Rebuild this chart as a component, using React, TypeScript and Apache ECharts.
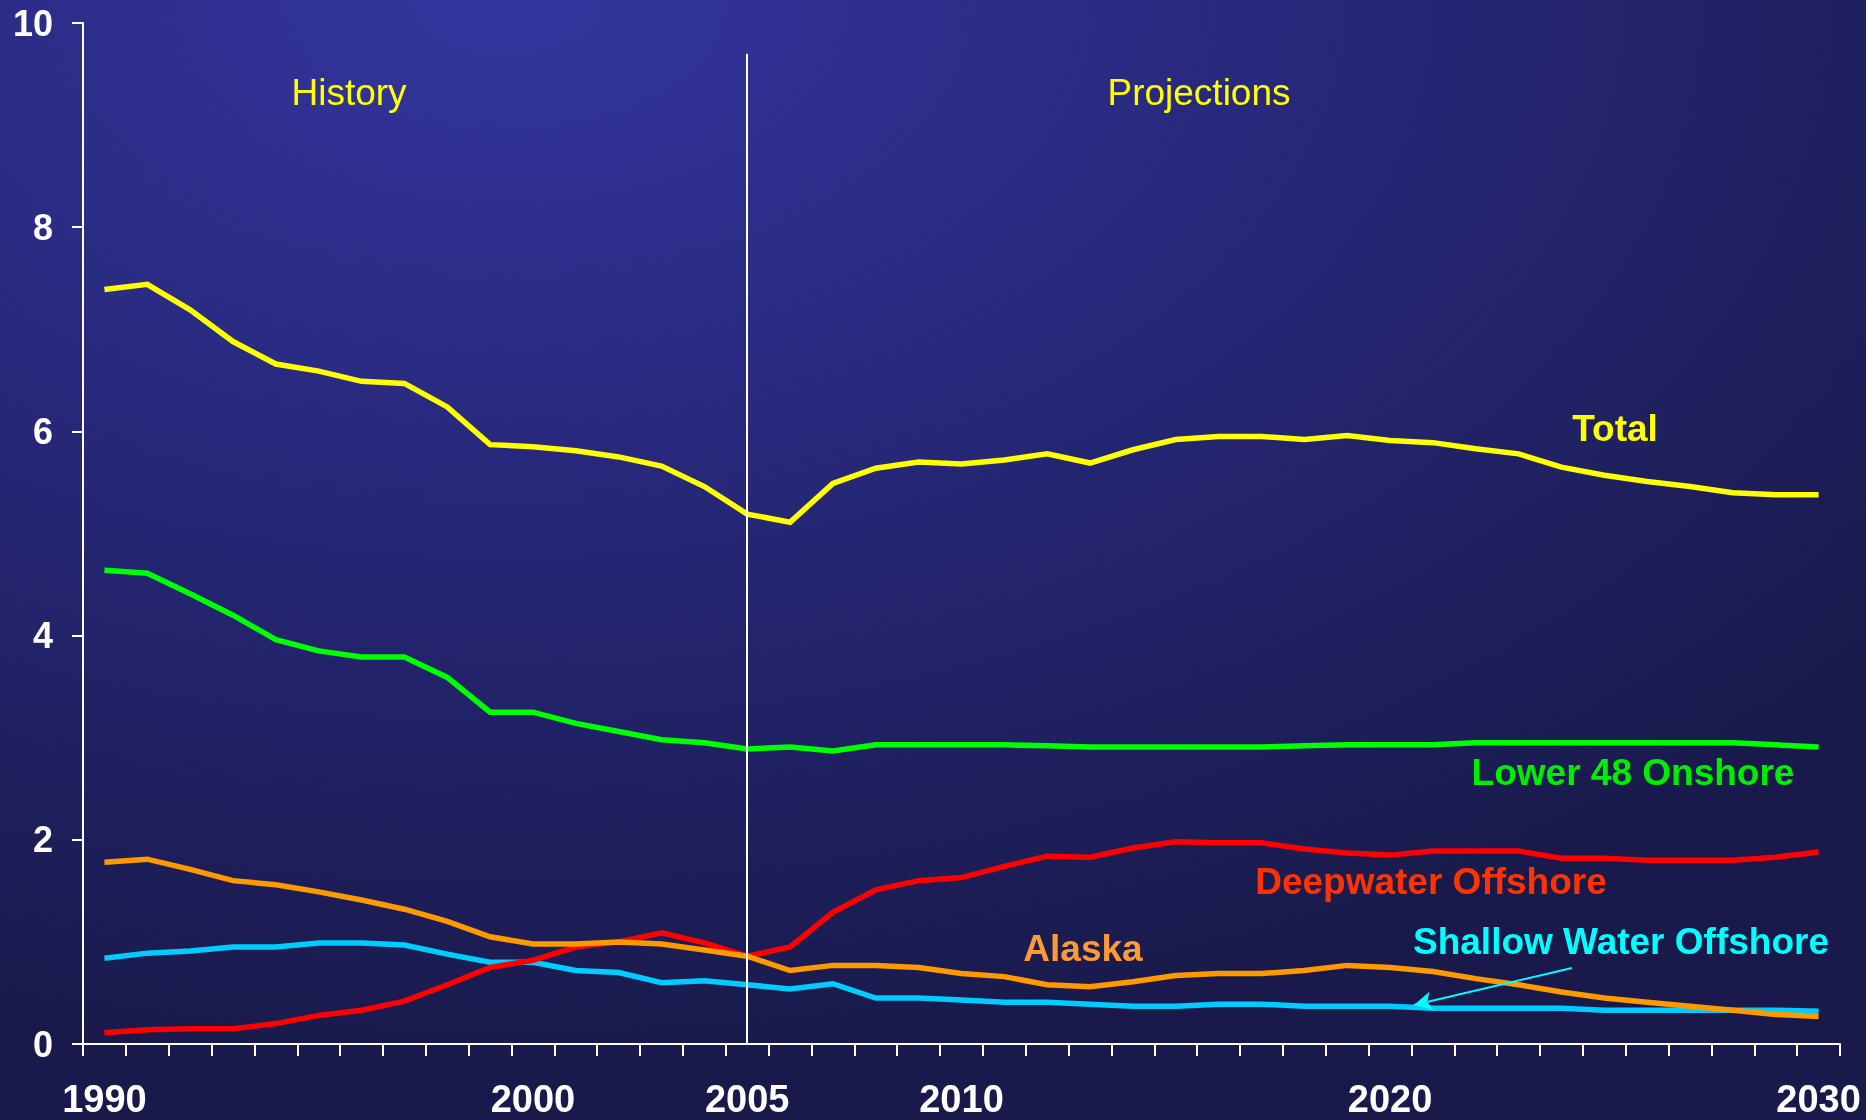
import React, { useEffect, useRef } from "react";
import * as echarts from "echarts";

const years = [
  "1990", "1991", "1992", "1993", "1994", "1995", "1996", "1997", "1998", "1999", "2000",
  "2001", "2002", "2003", "2004", "2005", "2006", "2007", "2008", "2009", "2010",
  "2011", "2012", "2013", "2014", "2015", "2016", "2017", "2018", "2019", "2020",
  "2021", "2022", "2023", "2024", "2025", "2026", "2027", "2028", "2029", "2030",
];

const labeledYears = ["1990", "2000", "2005", "2010", "2020", "2030"];

const total = [
  7.39, 7.44, 7.19, 6.88, 6.66, 6.59, 6.49, 6.47, 6.24, 5.87, 5.85,
  5.81, 5.75, 5.66, 5.46, 5.19, 5.11, 5.49, 5.64, 5.70, 5.68,
  5.72, 5.78, 5.69, 5.82, 5.92, 5.95, 5.95, 5.92, 5.96, 5.91,
  5.89, 5.83, 5.78, 5.65, 5.57, 5.51, 5.46, 5.40, 5.38, 5.38,
];

const lower48 = [
  4.64, 4.61, 4.41, 4.20, 3.96, 3.85, 3.79, 3.79, 3.59, 3.25, 3.25,
  3.14, 3.06, 2.98, 2.95, 2.89, 2.91, 2.87, 2.93, 2.93, 2.93,
  2.93, 2.92, 2.91, 2.91, 2.91, 2.91, 2.91, 2.92, 2.93, 2.93,
  2.93, 2.95, 2.95, 2.95, 2.95, 2.95, 2.95, 2.95, 2.93, 2.91,
];

const deepwater = [
  0.11, 0.14, 0.15, 0.15, 0.20, 0.28, 0.33, 0.42, 0.58, 0.75, 0.82,
  0.95, 1.00, 1.09, 0.99, 0.86, 0.95, 1.29, 1.51, 1.60, 1.63,
  1.74, 1.84, 1.83, 1.92, 1.98, 1.97, 1.97, 1.91, 1.87, 1.85,
  1.89, 1.89, 1.89, 1.82, 1.82, 1.80, 1.80, 1.80, 1.83, 1.88,
];

const alaska = [
  1.78, 1.81, 1.71, 1.60, 1.56, 1.49, 1.41, 1.32, 1.20, 1.05, 0.98,
  0.98, 1.00, 0.98, 0.92, 0.86, 0.72, 0.77, 0.77, 0.75, 0.69,
  0.66, 0.58, 0.56, 0.61, 0.67, 0.69, 0.69, 0.72, 0.77, 0.75,
  0.71, 0.64, 0.58, 0.51, 0.45, 0.41, 0.37, 0.33, 0.29, 0.27,
];

const shallow = [
  0.84, 0.89, 0.91, 0.95, 0.95, 0.99, 0.99, 0.97, 0.88, 0.80, 0.80,
  0.72, 0.70, 0.60, 0.62, 0.58, 0.54, 0.59, 0.45, 0.45, 0.43,
  0.41, 0.41, 0.39, 0.37, 0.37, 0.39, 0.39, 0.37, 0.37, 0.37,
  0.35, 0.35, 0.35, 0.35, 0.33, 0.33, 0.33, 0.33, 0.33, 0.32,
];

const FONT = "'Liberation Sans', Arial, Helvetica, sans-serif";

export default function App() {
  const ref = useRef<HTMLDivElement>(null);

  useEffect(() => {
    if (!ref.current) return;
    const chart = echarts.init(ref.current, null, { renderer: "svg" });

    const lineSeries = (name: string, data: number[], color: string, extra: any = {}) => ({
      name,
      type: "line",
      data,
      symbol: "none",
      lineStyle: { color, width: 5.5, join: "miter" },
      itemStyle: { color },
      silent: true,
      ...extra,
    });

    const label = (text: string, x: number, y: number, color: string, bold = true) => ({
      type: "text",
      x,
      y,
      style: {
        text,
        fill: color,
        font: `${bold ? "bold " : ""}37px ${FONT}`,
        textAlign: "center",
        textVerticalAlign: "middle",
      },
      z: 50,
    });

    chart.setOption({
      animation: false,
      backgroundColor: new echarts.graphic.RadialGradient(0.27, 0.0, 0.95, [
        { offset: 0, color: "#34359e" },
        { offset: 0.45, color: "#27287a" },
        { offset: 1, color: "#191a4b" },
      ]),
      grid: { left: 83, right: 26, top: 23, bottom: 76, containLabel: false },
      xAxis: {
        type: "category",
        data: years,
        boundaryGap: true,
        axisLine: { show: true, lineStyle: { color: "#ffffff", width: 2 } },
        axisTick: { show: true, interval: 0, length: 12, lineStyle: { color: "#ffffff", width: 2 } },
        axisLabel: {
          interval: (i: number, v: string) => labeledYears.includes(v),
          color: "#ffffff",
          fontSize: 38,
          fontWeight: "bold",
          fontFamily: FONT,
          margin: 36,
          hideOverlap: false,
        },
        splitLine: { show: false },
      },
      yAxis: {
        type: "value",
        min: 0,
        max: 10,
        interval: 2,
        axisLine: { show: true, lineStyle: { color: "#ffffff", width: 2 } },
        axisTick: { show: true, length: 11, lineStyle: { color: "#ffffff", width: 2 } },
        axisLabel: {
          color: "#ffffff",
          fontSize: 36,
          fontWeight: "bold",
          fontFamily: FONT,
          margin: 30,
        },
        splitLine: { show: false },
      },
      series: [
        lineSeries("Shallow Water Offshore", shallow, "#00ccff", {
          markLine: {
            silent: true,
            symbol: ["none", "arrow"],
            symbolSize: [14, 18],
            label: { show: false },
            lineStyle: { color: "#00ffff", width: 2, type: "solid" },
            data: [[{ x: 1572, y: 968 }, { x: 1414, y: 1005 }]],
            z: 20,
          },
        }),
        lineSeries("Deepwater Offshore", deepwater, "#ff0000"),
        lineSeries("Alaska", alaska, "#ff9900"),
        lineSeries("Lower 48 Onshore", lower48, "#00ff00"),
        lineSeries("Total", total, "#ffff00", {
          markLine: {
            silent: true,
            symbol: ["none", "none"],
            label: { show: false },
            lineStyle: { color: "#ffffff", width: 2, type: "solid" },
            data: [[{ coord: ["2005", 0] }, { coord: ["2005", 9.7] }]],
          },
        }),
      ],
      graphic: [
        label("History", 349, 92, "#ffff00", false),
        label("Projections", 1199, 92, "#ffff00", false),
        label("Total", 1615, 428, "#ffff00"),
        label("Lower 48 Onshore", 1633, 772, "#00ee00"),
        label("Deepwater Offshore", 1431, 881, "#ff3300"),
        label("Alaska", 1083, 948, "#ff9933"),
        label("Shallow Water Offshore", 1621, 941, "#00ffff"),
      ],
    });

    return () => chart.dispose();
  }, []);

  return (
    <div
      ref={ref}
      style={{ position: "fixed", left: 0, top: 0, width: 1866, height: 1120 }}
    />
  );
}
